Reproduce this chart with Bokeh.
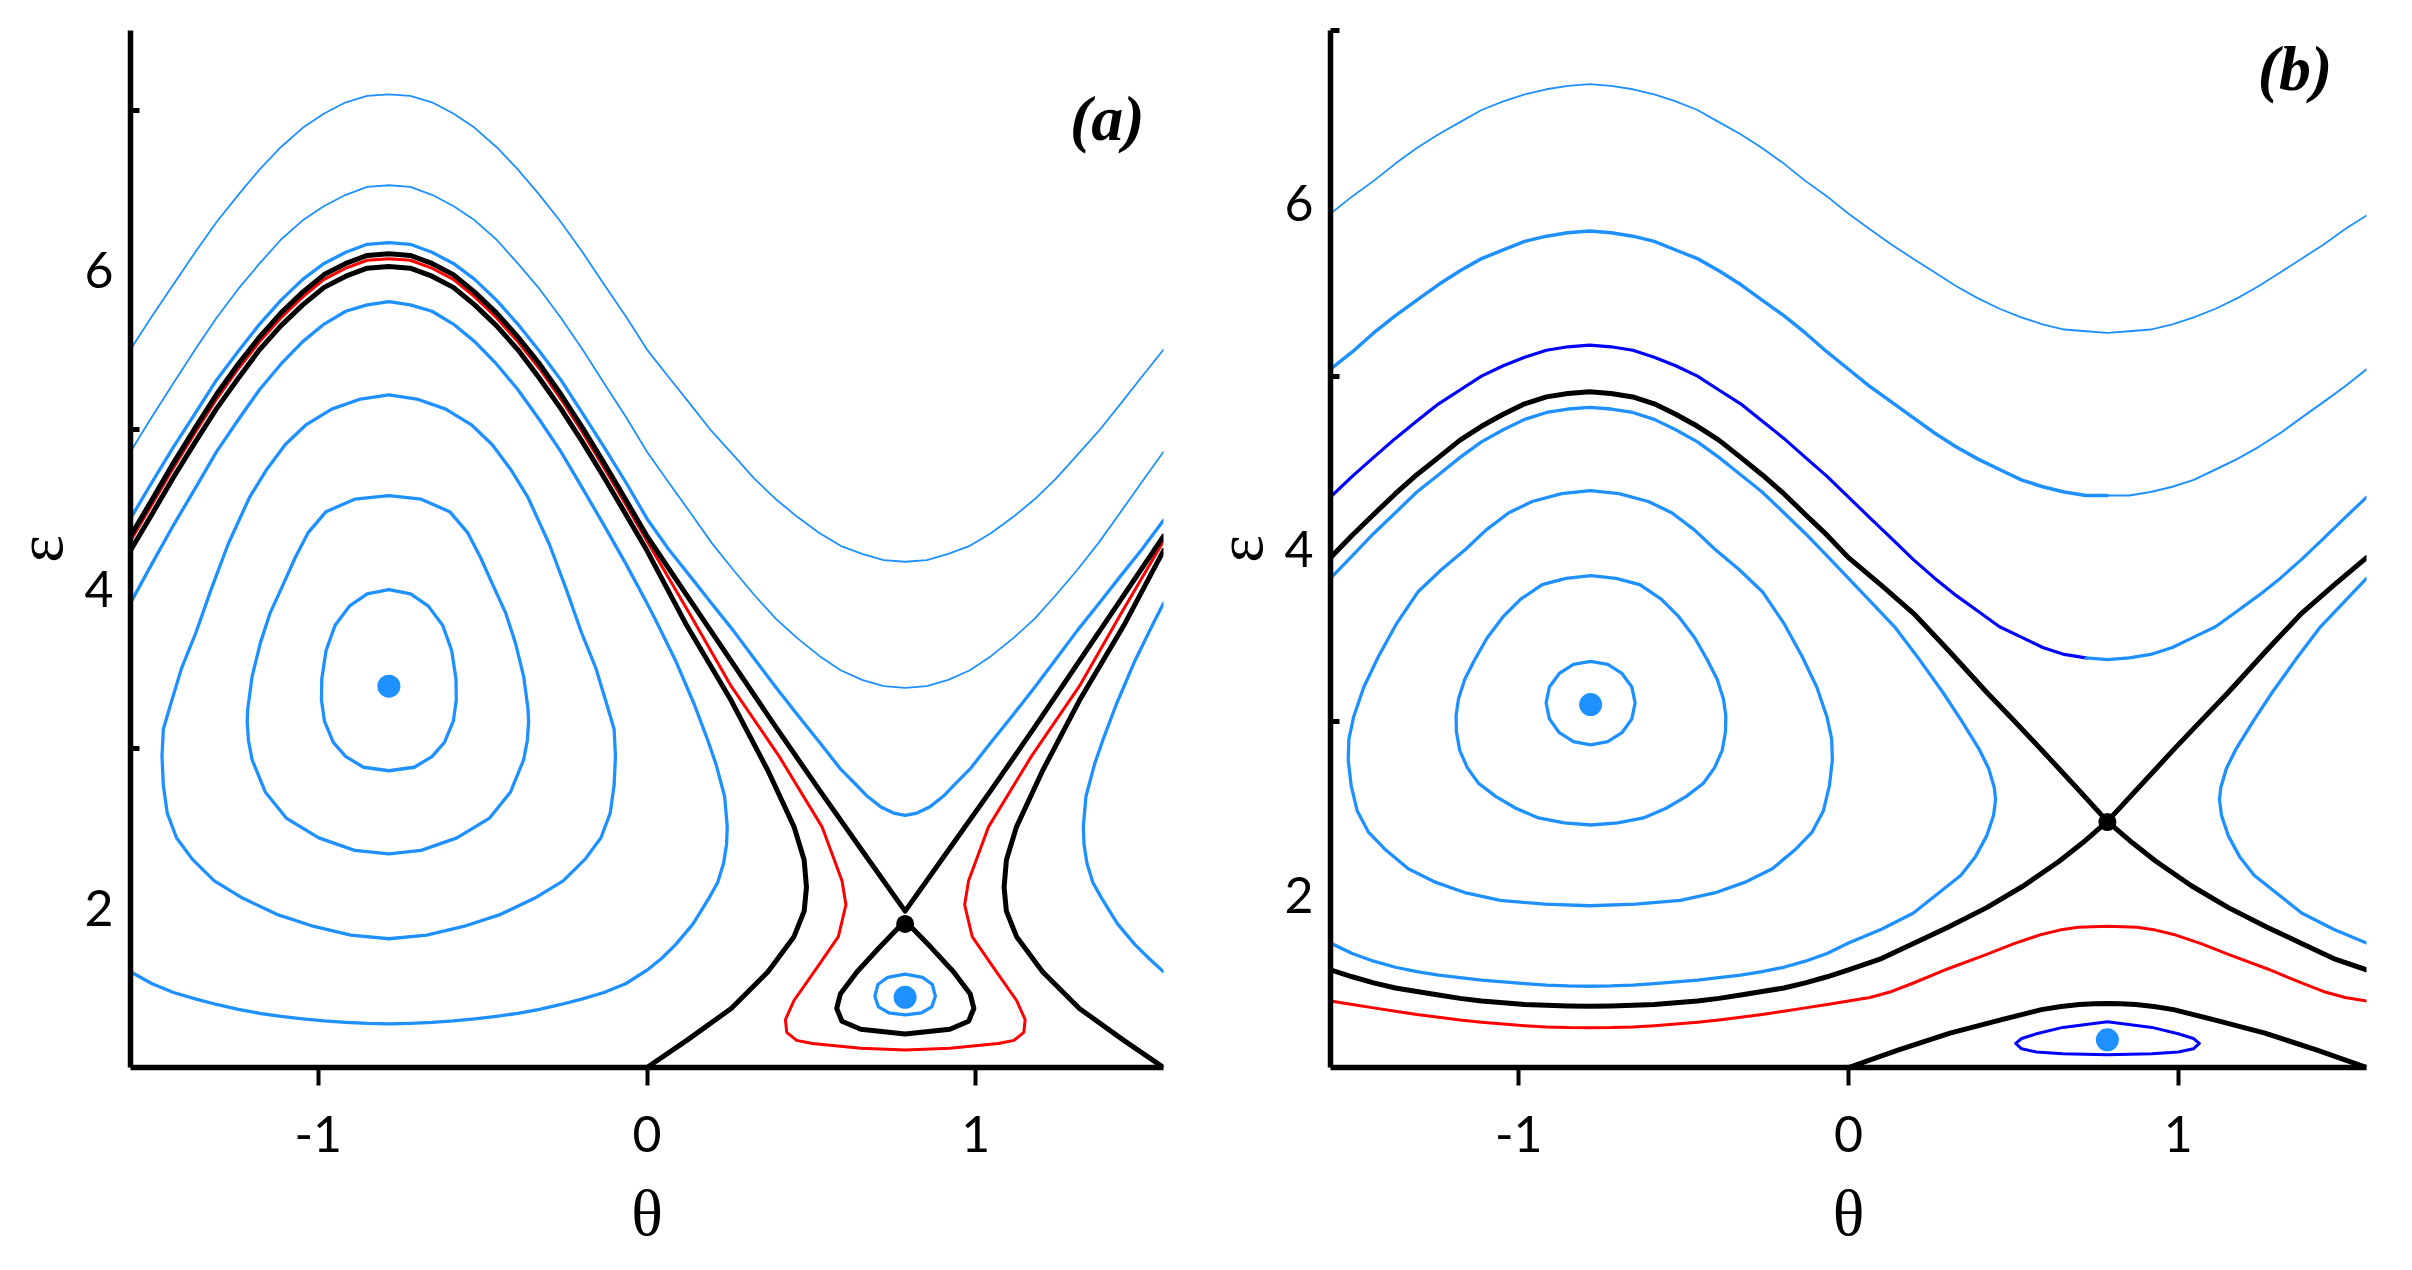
from bokeh.plotting import figure
from bokeh.layouts import row
from bokeh.models import Range1d, FixedTicker, Label
from bokeh.embed import file_html
from bokeh.resources import INLINE

# ---------------- data (theta in rad, epsilon) ----------------
theta_fine = [-1.571, -1.505, -1.440, -1.374, -1.309, -1.243, -1.178, -1.113, -1.047, -0.982, -0.916, -0.851,
              -0.785, -0.720, -0.654, -0.589, -0.524, -0.458, -0.393, -0.327, -0.262, -0.196, -0.131, -0.065,
              0.000, 0.065, 0.131, 0.196, 0.262, 0.327, 0.393, 0.458, 0.524, 0.589, 0.654, 0.720,
              0.785, 0.851, 0.916, 0.982, 1.047, 1.113, 1.178, 1.243, 1.309, 1.374, 1.440, 1.505, 1.571]
theta_half = theta_fine[:25]          # -pi/2 .. 0
theta_back = theta_fine[23::-1]       # -0.065 .. -pi/2

# ---- panel (a) ----
a_T1_eps = [5.50, 5.71, 5.91, 6.11, 6.30, 6.47, 6.63, 6.77, 6.89, 6.98, 7.05, 7.09, 7.10, 7.09, 7.05, 6.98, 6.89,
            6.77, 6.63, 6.47, 6.30, 6.11, 5.91, 5.71, 5.50, 5.33, 5.16, 4.99, 4.84, 4.69, 4.56, 4.45, 4.35, 4.27,
            4.22, 4.18, 4.17, 4.18, 4.22, 4.27, 4.35, 4.45, 4.56, 4.69, 4.84, 4.99, 5.16, 5.33, 5.50]
a_T2_eps = [4.86, 5.08, 5.29, 5.50, 5.70, 5.88, 6.04, 6.19, 6.31, 6.40, 6.47, 6.52, 6.53, 6.52, 6.47, 6.40, 6.31,
            6.19, 6.04, 5.88, 5.70, 5.50, 5.29, 5.08, 4.86, 4.67, 4.48, 4.29, 4.12, 3.96, 3.81, 3.69, 3.58, 3.49,
            3.43, 3.39, 3.38, 3.39, 3.43, 3.49, 3.58, 3.69, 3.81, 3.96, 4.12, 4.29, 4.48, 4.67, 4.86]
a_T3_theta = theta_half + [0.065, 0.131, 0.196, 0.262, 0.327, 0.393, 0.458, 0.524, 0.589, 0.63, 0.67, 0.71, 0.75, 0.785,
                           0.821, 0.861, 0.901, 0.941, 0.982, 1.047, 1.113, 1.178, 1.244, 1.309, 1.375, 1.440, 1.506, 1.571]
a_T3_eps = [4.44, 4.67, 4.89, 5.10, 5.31, 5.49, 5.66, 5.81, 5.94, 6.04, 6.11, 6.16, 6.17, 6.16, 6.11, 6.04, 5.94,
            5.81, 5.66, 5.49, 5.31, 5.10, 4.89, 4.67, 4.44,
            4.25, 4.08, 3.91, 3.74, 3.56, 3.38, 3.21, 3.04, 2.87, 2.785, 2.70, 2.635, 2.595, 2.58,
            2.595, 2.635, 2.70, 2.785, 2.87, 3.04, 3.21, 3.38, 3.56, 3.74, 3.91, 4.08, 4.25, 4.43]
a_A_theta = theta_half + [0.131, 0.262, 0.393, 0.524, 0.654, 0.785, 0.916, 1.047, 1.178, 1.309, 1.440, 1.571]
a_A_eps = [4.33, 4.56, 4.79, 5.01, 5.22, 5.41, 5.58, 5.73, 5.86, 5.97, 6.04, 6.09, 6.10, 6.09, 6.04, 5.97, 5.86,
           5.73, 5.58, 5.41, 5.22, 5.01, 4.79, 4.56, 4.33,
           3.93, 3.53, 3.13, 2.74, 2.36, 1.98, 2.36, 2.74, 3.13, 3.53, 3.93, 4.33]
a_red_theta = theta_half + [0.131, 0.256, 0.402, 0.532, 0.593, 0.605, 0.582, 0.515, 0.447, 0.421, 0.425, 0.455, 0.503,
                            0.650, 0.785, 0.921, 1.068, 1.116, 1.146, 1.150, 1.124, 1.056, 0.989, 0.966, 0.978,
                            1.039, 1.169, 1.315, 1.440, 1.571]
a_red_eps = [4.30, 4.53, 4.76, 4.98, 5.19, 5.38, 5.55, 5.70, 5.83, 5.94, 6.01, 6.06, 6.07, 6.06, 6.01, 5.94, 5.83,
             5.70, 5.55, 5.38, 5.19, 4.98, 4.76, 4.53, 4.30,
             3.84, 3.39, 2.95, 2.51, 2.17, 2.02, 1.82, 1.62, 1.42, 1.30, 1.22, 1.17, 1.15, 1.12, 1.11,
             1.12, 1.15, 1.17, 1.22, 1.30, 1.42, 1.62, 1.82, 2.02, 2.17, 2.51, 2.95, 3.39, 3.84, 4.30]
a_B_theta = theta_half + [0.121, 0.256, 0.368, 0.447, 0.478, 0.485, 0.478, 0.447, 0.368, 0.256, 0.121, 0.000,
                          1.571, 1.450, 1.315, 1.203, 1.124, 1.093, 1.086, 1.093, 1.124, 1.203, 1.315, 1.450, 1.571]
a_B_eps = [4.24, 4.47, 4.70, 4.92, 5.13, 5.32, 5.50, 5.65, 5.78, 5.89, 5.96, 6.01, 6.02, 6.01, 5.96, 5.89, 5.78,
           5.65, 5.50, 5.32, 5.13, 4.92, 4.70, 4.47, 4.24,
           3.77, 3.30, 2.86, 2.51, 2.30, 2.13, 1.98, 1.82, 1.60, 1.37, 1.17, 1.00,
           1.00, 1.17, 1.37, 1.60, 1.82, 1.98, 2.13, 2.30, 2.51, 2.86, 3.30, 3.77, 4.24]
a_C_theta = [0.785, 0.706, 0.639, 0.588, 0.577, 0.593, 0.650, 0.785, 0.921, 0.978, 0.994, 0.983, 0.932, 0.865, 0.785]
a_C_eps = [1.92, 1.75, 1.60, 1.46, 1.37, 1.29, 1.24, 1.21, 1.24, 1.29, 1.37, 1.46, 1.60, 1.75, 1.92]
a_s_theta = [0.785, 0.838, 0.868, 0.877, 0.866, 0.835, 0.785, 0.735, 0.704, 0.693, 0.702, 0.732, 0.785]
a_s_eps = [1.585, 1.565, 1.52, 1.445, 1.38, 1.343, 1.33, 1.343, 1.38, 1.445, 1.52, 1.565, 1.585]
a_L1_theta = [-0.785, -0.719, -0.665, -0.621, -0.594, -0.581, -0.580, -0.589, -0.616, -0.654, -0.708, -0.785,
              -0.862, -0.916, -0.954, -0.981, -0.990, -0.989, -0.976, -0.949, -0.905, -0.851, -0.785]
a_L1_eps = [3.996, 3.969, 3.892, 3.770, 3.614, 3.437, 3.304, 3.171, 3.038, 2.949, 2.882, 2.860,
            2.882, 2.949, 3.038, 3.171, 3.304, 3.437, 3.614, 3.770, 3.892, 3.969, 3.996]
a_L2_theta = [-0.785, -0.687, -0.600, -0.545, -0.507, -0.470, -0.430, -0.400, -0.375, -0.362, -0.360, -0.364,
              -0.375, -0.415, -0.480, -0.578, -0.687, -0.785,
              -0.889, -0.998, -1.096, -1.161, -1.201, -1.212, -1.216, -1.214, -1.201, -1.176, -1.146, -1.106,
              -1.069, -1.031, -0.976, -0.889, -0.785]
a_L2_eps = [4.584, 4.562, 4.484, 4.351, 4.20, 4.03, 3.85, 3.66, 3.45, 3.25, 3.17, 3.05, 2.93, 2.727, 2.561,
            2.439, 2.361, 2.339,
            2.361, 2.439, 2.561, 2.727, 2.93, 3.05, 3.17, 3.25, 3.45, 3.66, 3.85, 4.03, 4.20, 4.351, 4.484,
            4.562, 4.584]
a_L3_theta = [-0.785, -0.700, -0.612, -0.535, -0.471, -0.415, -0.362, -0.297, -0.246, -0.199, -0.155, -0.123,
              -0.100, -0.096, -0.100, -0.112, -0.140, -0.188, -0.255, -0.341, -0.445, -0.558, -0.670, -0.785,
              -0.901, -1.013, -1.126, -1.230, -1.316, -1.383, -1.431, -1.459, -1.471, -1.475, -1.471, -1.448,
              -1.416, -1.372, -1.325, -1.274, -1.209, -1.156, -1.100, -1.036, -0.959, -0.871, -0.785]
a_L3_eps = [5.216, 5.19, 5.127, 5.03, 4.905, 4.75, 4.573, 4.28, 4.00, 3.725, 3.50, 3.282, 3.12, 2.949, 2.77,
            2.594, 2.44, 2.306, 2.17, 2.062, 1.96, 1.884, 1.83, 1.807,
            1.83, 1.884, 1.96, 2.062, 2.17, 2.306, 2.44, 2.594, 2.77, 2.949, 3.12, 3.282, 3.50, 3.725, 4.00,
            4.28, 4.573, 4.75, 4.905, 5.03, 5.127, 5.19, 5.216]
a_L4_theta = theta_half + [0.030, 0.087, 0.143, 0.185, 0.210, 0.236, 0.244, 0.242, 0.233, 0.215, 0.188, 0.140,
                           0.087, 0.045, 0.000] + theta_back
a_L4_eps = [3.91, 4.16, 4.40, 4.63, 4.86, 5.06, 5.25, 5.41, 5.55, 5.66, 5.74, 5.78, 5.80, 5.78, 5.74, 5.66, 5.55,
            5.41, 5.25, 5.06, 4.86, 4.63, 4.40, 4.16, 3.91,
            3.79, 3.55, 3.28, 3.05, 2.90, 2.70, 2.51, 2.40, 2.28, 2.16, 2.06, 1.90, 1.77, 1.685, 1.61,
            1.525, 1.47, 1.43, 1.395, 1.365, 1.34, 1.32, 1.305, 1.292, 1.283, 1.277, 1.274,
            1.277, 1.283, 1.292, 1.305, 1.32, 1.34, 1.365, 1.395, 1.43, 1.47, 1.525, 1.60]
a_L4r_theta = [1.571, 1.541, 1.484, 1.428, 1.386, 1.361, 1.335, 1.327, 1.329, 1.338, 1.356, 1.383, 1.431, 1.484,
               1.526, 1.571]
a_L4r_eps = [3.91, 3.79, 3.55, 3.28, 3.05, 2.90, 2.70, 2.51, 2.40, 2.28, 2.16, 2.06, 1.90, 1.77, 1.685, 1.60]
a_centers_theta = [-0.785, 0.785]
a_centers_eps = [3.39, 1.44]
a_saddle_theta = [0.785]
a_saddle_eps = [1.90]

# ---- panel (b) ----
b_U1_eps = [5.94, 6.04, 6.13, 6.23, 6.32, 6.40, 6.47, 6.54, 6.59, 6.63, 6.66, 6.68, 6.69, 6.68, 6.66, 6.63, 6.59,
            6.54, 6.47, 6.40, 6.32, 6.23, 6.13, 6.04, 5.94, 5.85, 5.76, 5.68, 5.60, 5.52, 5.45, 5.39, 5.34, 5.30,
            5.27, 5.26, 5.25, 5.26, 5.27, 5.30, 5.34, 5.39, 5.45, 5.52, 5.60, 5.68, 5.76, 5.85, 5.93]
b_U2_eps = [5.04, 5.14, 5.25, 5.35, 5.44, 5.53, 5.61, 5.68, 5.73, 5.78, 5.81, 5.83, 5.84, 5.83, 5.81, 5.78, 5.73,
            5.68, 5.61, 5.53, 5.44, 5.35, 5.25, 5.14, 5.04, 4.94, 4.85, 4.76, 4.67, 4.59, 4.52, 4.46, 4.40, 4.36,
            4.33, 4.31, 4.31, 4.31, 4.33, 4.36, 4.40, 4.46, 4.52, 4.59, 4.67, 4.76, 4.85, 4.94, 5.04]
b_U3_eps = [4.30, 4.42, 4.53, 4.64, 4.74, 4.84, 4.92, 5.00, 5.06, 5.11, 5.15, 5.17, 5.18, 5.17, 5.15, 5.11, 5.06,
            5.00, 4.92, 4.84, 4.74, 4.64, 4.53, 4.42, 4.30, 4.18, 4.06, 3.94, 3.83, 3.73, 3.64, 3.55, 3.49, 3.43,
            3.39, 3.37, 3.36, 3.37, 3.39, 3.43, 3.49, 3.55, 3.64, 3.73, 3.83, 3.94, 4.06, 4.18, 4.30]
b_S_theta = theta_half + [0.100, 0.197, 0.300, 0.419, 0.500, 0.585, 0.696, 0.785, 0.875, 0.986, 1.071, 1.152,
                          1.271, 1.374, 1.471, 1.571]
b_S_eps = [3.95, 4.08, 4.20, 4.32, 4.43, 4.53, 4.63, 4.71, 4.78, 4.84, 4.88, 4.90, 4.91, 4.90, 4.88, 4.84, 4.78,
           4.71, 4.63, 4.53, 4.43, 4.32, 4.20, 4.08, 3.95,
           3.79, 3.628, 3.42, 3.171, 3.01, 2.839, 2.61, 2.424, 2.61, 2.839, 3.01, 3.171, 3.42, 3.628, 3.79, 3.95]
b_W_theta = theta_half + [0.070, 0.142, 0.215, 0.286, 0.345, 0.397, 0.425, 0.442, 0.446, 0.440, 0.419, 0.385,
                          0.341, 0.280, 0.197, 0.100, 0.000] + theta_back
b_W_eps = [3.83, 3.96, 4.09, 4.21, 4.33, 4.43, 4.53, 4.62, 4.69, 4.75, 4.79, 4.81, 4.82, 4.81, 4.79, 4.75, 4.69,
           4.62, 4.53, 4.43, 4.33, 4.21, 4.09, 3.96, 3.83,
           3.69, 3.545, 3.36, 3.171, 3.00, 2.839, 2.73, 2.62, 2.55, 2.46, 2.34, 2.22, 2.112, 2.02, 1.894, 1.80, 1.72,
           1.66, 1.615, 1.58, 1.555, 1.535, 1.52, 1.505, 1.495, 1.485, 1.477, 1.472, 1.47,
           1.472, 1.477, 1.485, 1.495, 1.505, 1.52, 1.535, 1.555, 1.58, 1.615, 1.66, 1.72]
b_Wr_theta = [1.571, 1.501, 1.429, 1.356, 1.285, 1.226, 1.174, 1.146, 1.129, 1.125, 1.131, 1.152, 1.186, 1.230,
              1.291, 1.374, 1.471, 1.571]
b_Wr_eps = [3.83, 3.69, 3.545, 3.36, 3.171, 3.00, 2.839, 2.73, 2.62, 2.55, 2.46, 2.34, 2.22, 2.112, 2.02, 1.894,
            1.80, 1.72]
b_SL_theta = theta_half + [0.100, 0.197, 0.300, 0.419, 0.530, 0.640, 0.710, 0.785, 0.861, 0.931, 1.041, 1.152,
                           1.271, 1.374, 1.471, 1.571]
b_SL_eps = [1.565, 1.525, 1.49, 1.46, 1.44, 1.42, 1.40, 1.385, 1.375, 1.365, 1.36, 1.356, 1.354, 1.356, 1.36,
            1.365, 1.375, 1.385, 1.40, 1.42, 1.44, 1.46, 1.49, 1.525, 1.565,
            1.63, 1.718, 1.81, 1.925, 2.05, 2.195, 2.30, 2.424, 2.30, 2.195, 2.05, 1.925, 1.81, 1.718, 1.63, 1.565]
b_red_theta = theta_half + [0.065, 0.131, 0.197, 0.300, 0.419, 0.500, 0.585, 0.640, 0.696, 0.785, 0.875, 0.931,
                            0.986, 1.071, 1.152, 1.271, 1.374, 1.440, 1.506, 1.571]
b_red_eps = [1.385, 1.365, 1.345, 1.326, 1.307, 1.291, 1.275, 1.262, 1.251, 1.242, 1.235, 1.231, 1.23, 1.231,
             1.235, 1.242, 1.251, 1.262, 1.275, 1.291, 1.307, 1.326, 1.345, 1.365, 1.385,
             1.405, 1.44, 1.489, 1.57, 1.655, 1.715, 1.77, 1.795, 1.811, 1.817, 1.811, 1.795, 1.77, 1.715, 1.655,
             1.57, 1.489, 1.44, 1.405, 1.385]
b_D_theta = [0.000, 0.150, 0.308, 0.450, 0.585, 0.645, 0.700, 0.745, 0.785, 0.826, 0.871, 0.926, 0.986, 1.121,
             1.263, 1.421, 1.571, 0.000]
b_D_eps = [1.00, 1.10, 1.199, 1.27, 1.335, 1.353, 1.365, 1.369, 1.37, 1.369, 1.365, 1.353, 1.335, 1.27, 1.199,
           1.10, 1.00, 1.00]
b_e_theta = [0.507, 0.525, 0.57, 0.65, 0.785, 0.92, 1.00, 1.046, 1.064, 1.046, 1.00, 0.92, 0.785, 0.65, 0.57,
             0.525, 0.507]
b_e_eps = [1.14, 1.168, 1.195, 1.232, 1.265, 1.232, 1.195, 1.168, 1.14, 1.108, 1.09, 1.079, 1.074, 1.079, 1.09,
           1.108, 1.14]
b_V1_theta = [-0.647, -0.657, -0.687, -0.730, -0.782, -0.834, -0.877, -0.907, -0.917, -0.907, -0.877, -0.834,
              -0.782, -0.730, -0.687, -0.657, -0.647]
b_V1_eps = [3.11, 3.202, 3.28, 3.332, 3.35, 3.332, 3.28, 3.202, 3.11, 3.017, 2.937, 2.885, 2.866, 2.885, 2.937,
            3.017, 3.11]
b_V2_theta = [-0.781, -0.705, -0.633, -0.568, -0.514, -0.466, -0.428, -0.398, -0.379, -0.372, -0.373, -0.383,
              -0.406, -0.440, -0.492, -0.553, -0.622, -0.700, -0.781,
              -0.862, -0.940, -1.009, -1.070, -1.122, -1.156, -1.179, -1.189, -1.190, -1.183, -1.164, -1.134,
              -1.096, -1.048, -0.994, -0.929, -0.857, -0.781]
b_V2_eps = [3.846, 3.83, 3.794, 3.71, 3.607, 3.485, 3.358, 3.245, 3.130, 3.035, 2.943, 2.835, 2.735, 2.645, 2.569,
            2.50, 2.444, 2.415, 2.403,
            2.415, 2.444, 2.50, 2.569, 2.645, 2.735, 2.835, 2.943, 3.035, 3.130, 3.245, 3.358, 3.485, 3.607, 3.71,
            3.794, 3.83, 3.846]
b_V3_theta = [-0.783, -0.696, -0.607, -0.536, -0.4665, -0.406, -0.331, -0.261, -0.196, -0.141, -0.096, -0.065,
              -0.051, -0.049, -0.058, -0.076, -0.111, -0.163, -0.231, -0.315, -0.406, -0.510, -0.646, -0.783,
              -0.920, -1.056, -1.160, -1.251, -1.335, -1.403, -1.455, -1.490, -1.508, -1.517, -1.515, -1.501,
              -1.470, -1.425, -1.370, -1.305, -1.235, -1.160, -1.0995, -1.030, -0.959, -0.870, -0.783]
b_V3_eps = [4.338, 4.32, 4.275, 4.21, 4.109, 4.00, 3.88, 3.753, 3.57, 3.379, 3.20, 3.026, 2.90, 2.777, 2.63,
            2.486, 2.36, 2.258, 2.15, 2.071, 2.01, 1.967, 1.945, 1.936,
            1.945, 1.967, 2.01, 2.071, 2.15, 2.258, 2.36, 2.486, 2.63, 2.777, 2.90, 3.026, 3.20, 3.379, 3.57,
            3.753, 3.88, 4.00, 4.109, 4.21, 4.275, 4.32, 4.338]
b_centers_theta = [-0.782, 0.785]
b_centers_eps = [3.10, 1.16]
b_saddle_theta = [0.785]
b_saddle_eps = [2.42]

# ---------------- styling ----------------
LB = "#1E90FF"
DB = "#0000FF"
RED = "#FF0000"
BLK = "#000000"


def make_fig(width, height, ml, mr, mt, mb, ytop):
    p = figure(width=width, height=height, x_range=Range1d(-1.5708, 1.5708), y_range=Range1d(1, ytop),
               output_backend="svg", toolbar_location=None,
               min_border_left=ml, min_border_right=mr, min_border_top=mt, min_border_bottom=mb)
    p.grid.visible = False
    p.outline_line_color = None
    p.background_fill_color = "white"
    p.border_fill_color = "white"
    xa = p.xaxis[0]
    ya = p.yaxis[0]
    xa.ticker = FixedTicker(ticks=[-1, 0, 1])
    xa.major_label_overrides = {-1: "-1", 0: "0", 1: "1"}
    xa.axis_line_width = 5.5
    xa.axis_line_color = BLK
    xa.major_tick_line_width = 4
    xa.major_tick_line_color = BLK
    xa.major_tick_out = 18
    xa.major_tick_in = 0
    xa.minor_tick_line_color = None
    xa.major_label_text_font = "Lato"
    xa.major_label_text_font_size = "50px"
    xa.major_label_text_color = BLK
    xa.major_label_standoff = 30
    xa.axis_label = "θ"
    xa.axis_label_text_font = "Liberation Serif"
    xa.axis_label_text_font_style = "normal"
    xa.axis_label_text_font_size = "66px"
    xa.axis_label_text_color = BLK
    xa.axis_label_standoff = 21

    ya.ticker = FixedTicker(ticks=[2, 4, 6], minor_ticks=[3, 5, 7])
    ya.axis_line_width = 5.5
    ya.axis_line_color = BLK
    ya.major_tick_line_color = None
    ya.major_tick_in = 0
    ya.major_tick_out = 0
    ya.minor_tick_line_color = BLK
    ya.minor_tick_line_width = 5
    ya.minor_tick_in = 9
    ya.minor_tick_out = 0
    ya.major_label_text_font = "Lato"
    ya.major_label_text_font_size = "50px"
    ya.major_label_text_color = BLK
    ya.major_label_standoff = 17
    ya.axis_label = "ε"
    ya.axis_label_text_font = "Liberation Serif"
    ya.axis_label_text_font_style = "normal"
    ya.axis_label_text_font_size = "66px"
    ya.axis_label_text_color = BLK
    ya.axis_label_standoff = 5
    return p


def ln(p, x, y, color, w):
    p.line(x=x, y=y, line_color=color, line_width=w, line_join="round", line_cap="round")


# ---------------- panel (a) ----------------
pa = make_fig(1200, 1268, 130, 37, 30, 200, 7.5)
ln(pa, theta_fine, a_T1_eps, LB, 1.8)
ln(pa, theta_fine, a_T2_eps, LB, 1.8)
ln(pa, a_T3_theta, a_T3_eps, LB, 3.3)
ln(pa, a_L1_theta, a_L1_eps, LB, 3.3)
ln(pa, a_L2_theta, a_L2_eps, LB, 3.3)
ln(pa, a_L3_theta, a_L3_eps, LB, 3.3)
ln(pa, a_L4_theta, a_L4_eps, LB, 3.3)
ln(pa, a_L4r_theta, a_L4r_eps, LB, 3.3)
ln(pa, a_s_theta, a_s_eps, LB, 3.3)
ln(pa, a_red_theta, a_red_eps, RED, 3.0)
ln(pa, a_A_theta, a_A_eps, BLK, 5.0)
ln(pa, a_B_theta, a_B_eps, BLK, 5.0)
ln(pa, a_C_theta, a_C_eps, BLK, 5.0)
pa.scatter(x=a_centers_theta, y=a_centers_eps, size=23, fill_color=LB, line_color=None)
pa.scatter(x=a_saddle_theta, y=a_saddle_eps, size=18, fill_color=BLK, line_color=None)
pa.add_layout(Label(x=1.400, y=6.95, text="(a)", text_font="Liberation Serif", text_font_style="bold italic",
                    text_font_size="64px", text_align="center", text_baseline="middle", text_color=BLK))

# ---------------- panel (b) ----------------
pb = make_fig(1204, 1268, 128, 38, 30, 201, 7.0)
ln(pb, theta_fine, b_U1_eps, LB, 1.8)
ln(pb, theta_fine[:37], b_U2_eps[:37], LB, 3.5)
ln(pb, theta_fine[36:], b_U2_eps[36:], LB, 2.0)
ln(pb, theta_fine[:36], b_U3_eps[:36], DB, 3.2)
ln(pb, theta_fine[35:], b_U3_eps[35:], LB, 3.2)
ln(pb, b_W_theta, b_W_eps, LB, 3.3)
ln(pb, b_Wr_theta, b_Wr_eps, LB, 3.3)
ln(pb, b_V1_theta, b_V1_eps, LB, 3.3)
ln(pb, b_V2_theta, b_V2_eps, LB, 3.3)
ln(pb, b_V3_theta, b_V3_eps, LB, 3.3)
ln(pb, b_red_theta, b_red_eps, RED, 3.0)
ln(pb, b_S_theta, b_S_eps, BLK, 5.0)
ln(pb, b_SL_theta, b_SL_eps, BLK, 5.0)
ln(pb, b_D_theta, b_D_eps, BLK, 5.0)
ln(pb, b_e_theta, b_e_eps, DB, 3.0)
pb.scatter(x=b_centers_theta, y=b_centers_eps, size=23, fill_color=LB, line_color=None)
pb.scatter(x=b_saddle_theta, y=b_saddle_eps, size=18, fill_color=BLK, line_color=None)
pb.add_layout(Label(x=1.354, y=6.78, text="(b)", text_font="Liberation Serif", text_font_style="bold italic",
                    text_font_size="64px", text_align="center", text_baseline="middle", text_color=BLK))

layout = row(pa, pb)
open("out.html", "w").write(file_html(layout, INLINE))
